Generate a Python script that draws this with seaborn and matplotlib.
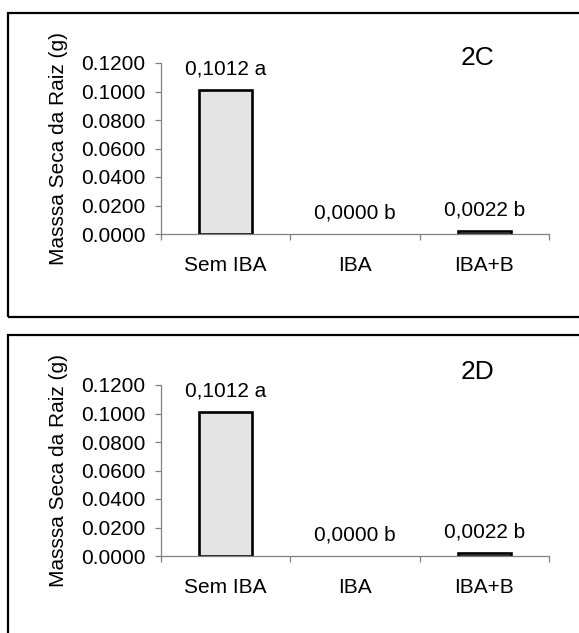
import matplotlib
matplotlib.use("Agg")
import matplotlib.pyplot as plt
import matplotlib.ticker as mticker
from matplotlib.patches import Rectangle
import pandas as pd
import seaborn as sns

sns.set_theme(style="white")
plt.rcParams['font.family'] = ['Liberation Sans', 'DejaVu Sans']

# data
categories = ['Sem IBA', 'IBA', 'IBA+B']
massa_2c = [0.1012, 0.0000, 0.0022]
letras_2c = ['a', 'b', 'b']
massa_2d = [0.1012, 0.0000, 0.0022]
letras_2d = ['a', 'b', 'b']
panel_names = ['2C', '2D']
y_ticks = [0.0, 0.02, 0.04, 0.06, 0.08, 0.10, 0.12]
y_label = 'Masssa Seca da Raiz (g)'

W, H = 579, 633
fig = plt.figure(figsize=(W / 100, H / 100), dpi=100)

def px(x, y):
    # pixel coords (top-left origin) -> figure fraction
    return x / W, 1 - y / H

panels = [
    (massa_2c, letras_2c, panel_names[0], 0, 58),
    (massa_2d, letras_2d, panel_names[1], 322, 372),
]

grey = '#808080'
fs = 15
for vals, letras, name, dy, name_y in panels:
    # frame around the panel (runs off the right side of the image)
    x0, y0 = px(8, 317 + dy)
    fig.patches.append(Rectangle((x0, y0), 1.2, 304 / H, transform=fig.transFigure,
                                 fill=False, edgecolor='black', linewidth=1.6,
                                 clip_on=False))

    left, bottom = px(161, 234 + dy)
    ax = fig.add_axes([left, bottom, 388 / W, 171 / H])
    df = pd.DataFrame({'trat': categories, 'massa': vals})
    sns.barplot(data=df, x='trat', y='massa', color='#e4e4e4', edgecolor='black',
                linewidth=1.9, width=0.41, saturation=1, ax=ax)
    # empty bars show nothing in the original
    for p in ax.patches:
        if p.get_height() == 0:
            p.set_edgecolor('none')

    ax.set_xlim(-0.5, 2.5)
    ax.set_ylim(0, 0.12)
    ax.set_yticks(y_ticks)
    ax.yaxis.set_major_formatter(mticker.FormatStrFormatter('%.4f'))
    ax.set_xlabel('')
    ax.set_ylabel(y_label, fontsize=fs, color='black')
    ax.yaxis.set_label_coords(-0.263, 0.5)
    ax.yaxis.label.set_verticalalignment('center')

    for side in ['top', 'right']:
        ax.spines[side].set_visible(False)
    for side in ['left', 'bottom']:
        ax.spines[side].set_color(grey)
        ax.spines[side].set_linewidth(0.9)

    ax.tick_params(axis='y', direction='out', length=4.3, width=0.9, color=grey,
                   pad=7, labelsize=fs, labelcolor='black', left=True)
    ax.xaxis.set_minor_locator(mticker.FixedLocator([-0.5, 0.5, 1.5, 2.5]))
    ax.tick_params(axis='x', which='minor', direction='out', length=4.3, width=0.9,
                   color=grey, bottom=True)
    ax.tick_params(axis='x', which='major', length=0, pad=16, labelsize=fs,
                   labelcolor='black')

    for i, (v, l) in enumerate(zip(vals, letras)):
        txt = f'{v:.4f}'.replace('.', ',') + ' ' + l
        ax.annotate(txt, (i, v), xytext=(0, 15), textcoords='offset points',
                    ha='center', va='center', fontsize=fs, color='black')

    tx, ty = px(477, name_y)
    fig.text(tx, ty, name, ha='center', va='center', fontsize=19, color='black')

fig.savefig('out.png', dpi=100)
